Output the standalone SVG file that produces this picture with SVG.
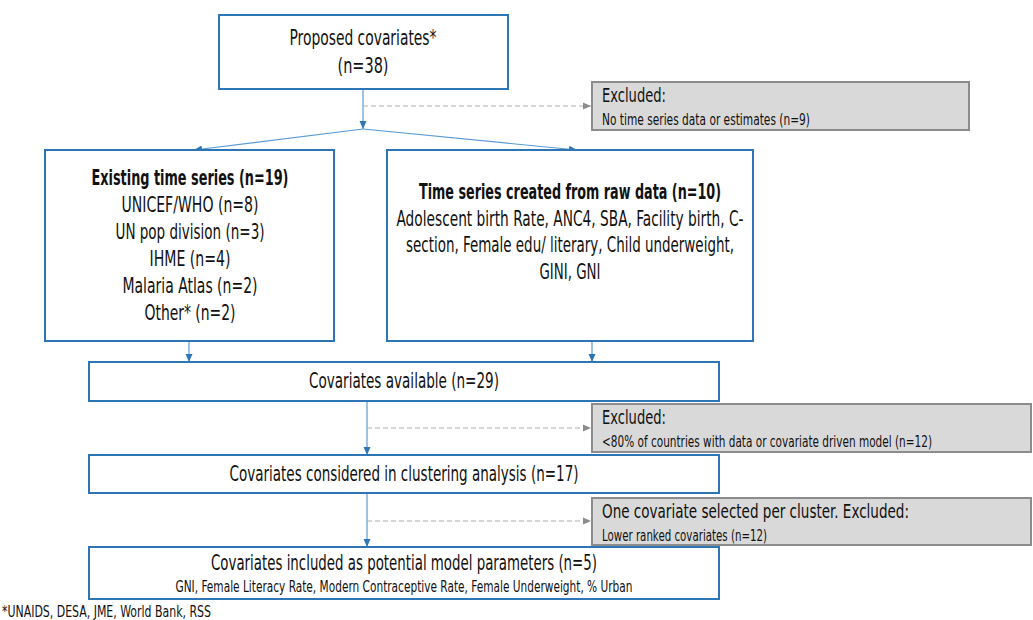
<svg xmlns="http://www.w3.org/2000/svg" width="1033" height="620" viewBox="0 0 1033 620">
<style>
text{font-family:"Liberation Sans Narrow","DejaVu Sans Condensed",Roboto,sans-serif;fill:#111}
.m{font-size:21px;text-anchor:middle}
.b{font-weight:bold}
.h{font-size:20px}
.s{font-size:15px}
.sc{font-size:15px;text-anchor:middle}
.box{fill:#fff;stroke:#2e75b6;stroke-width:2}
.ex{fill:#d9d9d9;stroke:#8c8c8c;stroke-width:2}
.ln{stroke:#5b9bd5;stroke-width:1.2;fill:none}
.dl{stroke:#b0b0b0;stroke-width:1.2;stroke-dasharray:5 3;fill:none}
</style>
<defs>
<marker id="ab" markerUnits="userSpaceOnUse" markerWidth="8" markerHeight="8" viewBox="0 0 8 8" refX="8" refY="4" orient="auto"><path d="M0,0.5 L8,4 L0,7.5 Z" fill="#2e75b6"/></marker>
<marker id="ag" markerUnits="userSpaceOnUse" markerWidth="8" markerHeight="8" viewBox="0 0 8 8" refX="8" refY="4" orient="auto"><path d="M0,0.5 L8,4 L0,7.5 Z" fill="#8c8c8c"/></marker>
</defs>
<g id="connectors">
<path class="ln" d="M363,89 V129" marker-end="url(#ab)"/>
<path class="ln" d="M363,129 L194,150" marker-end="url(#ab)"/>
<path class="ln" d="M363,129 L577,150" marker-end="url(#ab)"/>
<path class="dl" d="M363,106 H591" marker-end="url(#ag)"/>
<path class="ln" d="M189,341 V362" marker-end="url(#ab)"/>
<path class="ln" d="M592,341 V362" marker-end="url(#ab)"/>
<path class="ln" d="M367,401 V455" marker-end="url(#ab)"/>
<path class="dl" d="M367,428 H591" marker-end="url(#ag)"/>
<path class="ln" d="M367,493 V547" marker-end="url(#ab)"/>
<path class="dl" d="M367,521 H591" marker-end="url(#ag)"/>
</g>
<g id="proposed">
<rect class="box" x="219" y="15" width="289" height="74"/>
<text class="m" x="363" y="45" textLength="147" lengthAdjust="spacingAndGlyphs">Proposed covariates*</text>
<text class="m" x="363" y="73" textLength="51" lengthAdjust="spacingAndGlyphs">(n=38)</text>
</g>
<g id="excluded1">
<rect class="ex" x="592" y="82" width="377" height="48"/>
<text class="h" x="602" y="101.5" textLength="64" lengthAdjust="spacingAndGlyphs">Excluded:</text>
<text class="s" x="602" y="125" textLength="208" lengthAdjust="spacingAndGlyphs">No time series data or estimates (n=9)</text>
</g>
<g id="existing">
<rect class="box" x="45" y="150" width="289" height="191"/>
<text class="m b" x="190" y="184.5" textLength="197" lengthAdjust="spacingAndGlyphs">Existing time series (n=19)</text>
<text class="m" x="190" y="211.6" textLength="137" lengthAdjust="spacingAndGlyphs">UNICEF/WHO (n=8)</text>
<text class="m" x="190" y="238.7" textLength="149" lengthAdjust="spacingAndGlyphs">UN pop division (n=3)</text>
<text class="m" x="190" y="265.8" textLength="81" lengthAdjust="spacingAndGlyphs">IHME (n=4)</text>
<text class="m" x="190" y="292.9" textLength="135" lengthAdjust="spacingAndGlyphs">Malaria Atlas (n=2)</text>
<text class="m" x="190" y="320" textLength="91" lengthAdjust="spacingAndGlyphs">Other* (n=2)</text>
</g>
<g id="created">
<rect class="box" x="387" y="150" width="366" height="191"/>
<text class="m b" x="570" y="199" textLength="302" lengthAdjust="spacingAndGlyphs">Time series created from raw data (n=10)</text>
<text class="m" x="570" y="225.5" textLength="347" lengthAdjust="spacingAndGlyphs">Adolescent birth Rate, ANC4, SBA, Facility birth, C-</text>
<text class="m" x="570" y="252" textLength="328" lengthAdjust="spacingAndGlyphs">section, Female edu/ literary, Child underweight,</text>
<text class="m" x="570" y="278.5" textLength="61" lengthAdjust="spacingAndGlyphs">GINI, GNI</text>
</g>
<g id="available">
<rect class="box" x="89" y="362" width="630" height="39"/>
<text class="m" x="404" y="388.3" textLength="190" lengthAdjust="spacingAndGlyphs">Covariates available (n=29)</text>
</g>
<g id="excluded2">
<rect class="ex" x="592" y="404" width="439" height="48"/>
<text class="h" x="602" y="423.5" textLength="64" lengthAdjust="spacingAndGlyphs">Excluded:</text>
<text class="s" x="602" y="446.5" textLength="330" lengthAdjust="spacingAndGlyphs">&lt;80% of countries with data or covariate driven model (n=12)</text>
</g>
<g id="considered">
<rect class="box" x="89" y="455" width="630" height="38"/>
<text class="m" x="404" y="480.5" textLength="349" lengthAdjust="spacingAndGlyphs">Covariates considered in clustering analysis (n=17)</text>
</g>
<g id="excluded3">
<rect class="ex" x="592" y="498" width="439" height="47"/>
<text class="h" x="602" y="517.5" textLength="307" lengthAdjust="spacingAndGlyphs">One covariate selected per cluster. Excluded:</text>
<text class="s" x="602" y="541" textLength="165" lengthAdjust="spacingAndGlyphs">Lower ranked covariates (n=12)</text>
</g>
<g id="included">
<rect class="box" x="89" y="547" width="630" height="52"/>
<text class="m" x="404" y="570" textLength="386" lengthAdjust="spacingAndGlyphs">Covariates included as potential model parameters (n=5)</text>
<text class="sc" x="404" y="591.7" textLength="457" lengthAdjust="spacingAndGlyphs">GNI, Female Literacy Rate, Modern Contraceptive Rate, Female Underweight, % Urban</text>
</g>
<g id="footnote">
<text class="s" x="2" y="617" textLength="209" lengthAdjust="spacingAndGlyphs">*UNAIDS, DESA, JME, World Bank, RSS</text>
</g>
</svg>
